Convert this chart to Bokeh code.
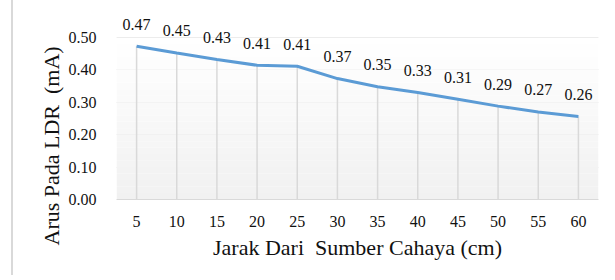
from bokeh.plotting import figure
from bokeh.models import (ColumnDataSource, FixedTicker, Range1d, BoxAnnotation,
                          PrintfTickFormatter, Div, Spacer, Title)
from bokeh.layouts import row
from bokeh.core.properties import value
from bokeh.embed import file_html
from bokeh.resources import INLINE

# ---- data ----
jarak = [5, 10, 15, 20, 25, 30, 35, 40, 45, 50, 55, 60]
arus = [0.473, 0.452, 0.432, 0.414, 0.411, 0.373, 0.348, 0.330, 0.309, 0.288, 0.270, 0.256]
y_ticks = [0.0, 0.1, 0.2, 0.3, 0.4, 0.5]
x_title = "Jarak Dari\u00a0 Sumber Cahaya (cm)"
y_title = "Arus Pada LDR\u00a0 (mA)"

labels = [f"{v:.2f}" for v in arus]
src = ColumnDataSource(dict(x=jarak, y=arus, lab=labels, zero=[0] * len(jarak)))

FONT = "Liberation Serif"
GRID = "#d9d9d9"
TXT = "#111111"

y_top = y_ticks[-1]
p = figure(width=595, height=275, output_backend="svg", toolbar_location=None,
           x_range=Range1d(2.5, 62.5), y_range=Range1d(0, y_top * 1.166),
           min_border_left=103, min_border_right=10, min_border_top=10, min_border_bottom=76)
p.outline_line_color = None
p.background_fill_color = "white"
p.border_fill_color = "white"

# gradient background of the plot area (white at top -> light gray at bottom)
N = 25
for i in range(N):
    t = i / (N - 1)
    c = int(round(255 - 14 * (1 - t)))
    p.add_layout(BoxAnnotation(bottom=y_top * i / N, top=y_top * (i + 1) / N,
                               fill_color=f"#{c:02x}{c:02x}{c:02x}", fill_alpha=1.0,
                               line_color=None, level="underlay"))

p.xgrid.grid_line_color = None
p.ygrid.grid_line_color = GRID
p.ygrid.grid_line_width = 1.2
p.ygrid.ticker = FixedTicker(ticks=y_ticks)

# drop lines
p.segment(x0="x", y0="zero", x1="x", y1="y", source=src, line_color=GRID, line_width=1.5)

# the series line
p.line("x", "y", source=src, line_color="#5b9bd5", line_width=3)

# data labels
p.text("x", "y", text="lab", source=src, text_font=value(FONT), text_font_size="16px",
       text_align="center", text_baseline="middle", y_offset=-22, text_color=TXT)

# axes
p.xaxis.ticker = FixedTicker(ticks=jarak)
p.yaxis.ticker = FixedTicker(ticks=y_ticks)
p.yaxis.formatter = PrintfTickFormatter(format="%.2f")

for ax in (p.xaxis, p.yaxis):
    ax.major_tick_line_color = None
    ax.minor_tick_line_color = None
    ax.major_label_text_font = FONT
    ax.major_label_text_font_size = "16px"
    ax.major_label_text_color = TXT
    ax.axis_label_text_font = FONT
    ax.axis_label_text_font_size = "22px"
    ax.axis_label_text_font_style = "normal"
    ax.axis_label_text_color = TXT

p.xaxis.axis_line_color = GRID
p.xaxis.axis_line_width = 1.2
p.yaxis.axis_line_color = None
p.xaxis.major_label_standoff = 10
p.yaxis.major_label_standoff = 14
p.xaxis.axis_label = x_title
p.xaxis.axis_label_standoff = 5

# y-axis title as a side title, starting below the frame bottom like the reference
p.add_layout(Title(text=y_title, align="left", offset=-46, standoff=3,
                   text_font=FONT, text_font_size="22px", text_font_style="normal",
                   text_color=TXT), "left")

edge = Div(text="", width=2, height=275, margin=0,
           styles={"background-color": GRID})
layout = row(Spacer(width=11, height=275, margin=0), edge, p, spacing=0)

open("out.html", "w").write(file_html(layout, INLINE))
